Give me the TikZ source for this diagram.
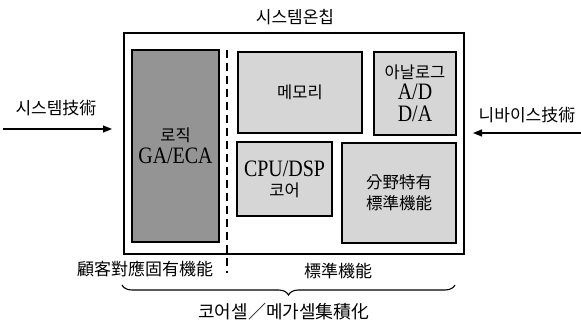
\documentclass[tikz,border=0pt]{standalone}
\usepackage{fontspec}
\setmainfont{Liberation Serif}
\newfontfamily\kr{Noto Sans CJK KR}
\usetikzlibrary{arrows.meta,decorations.pathreplacing}
\newcommand\krt[1]{{\kr\fontsize{16.5}{20}\selectfont #1}}
\newcommand\tall[1]{\scalebox{0.95}[1.12]{#1}}
\begin{document}
\begin{tikzpicture}[x=1pt,y=-1pt,
  blk/.style={draw, line width=1.1pt, inner sep=0pt, align=center,
              font=\fontsize{21}{22}\selectfont},
  lightblk/.style={blk, fill=black!16},
  darkblk/.style={blk, fill=black!42},
  lbl/.style={inner sep=0pt, font=\kr\fontsize{17}{20}\selectfont},
  arr/.style={line width=1.2pt, -{Triangle[length=9pt,width=7pt]}}
]
\useasboundingbox (0,0) rectangle (581,328);

% outer chip
\node[draw, line width=1.2pt, minimum width=340pt, minimum height=221pt, inner sep=0pt] (chip) at (294,143.5) {};
\node[lbl] (title) at (295,17) {시스템온칩};

% blocks
\node[darkblk, minimum width=87pt, minimum height=192pt] (logic) at (175.5,146) {\krt{로직}\\\tall{GA/ECA}};
\node[lightblk, minimum width=124pt, minimum height=81pt] (mem) at (300,92.5) {\krt{메모리}};
\node[lightblk, minimum width=82pt, minimum height=83pt] (ana) at (415,93.5) {\krt{아날로그}\\[-1pt]\tall{A/D}\\\tall{D/A}};
\node[lightblk, minimum width=95pt, minimum height=74pt] (cpu) at (284.5,179) {\tall{CPU/DSP}\\[-2pt]\krt{코어}};
\node[lightblk, minimum width=114pt, minimum height=100pt] (std) at (399,193) {\krt{分野特有}\\[-1pt]\krt{標準機能}};

% dashed divider
\coordinate (dtop) at (227,50);
\coordinate (dbot) at (227,273);
\draw[line width=1.3pt, dash pattern=on 8pt off 5pt] (dtop) -- (dbot);

% bottom labels
\node[lbl] (cust) at (145,269) {顧客對應固有機能};
\node[lbl] (stdf) at (338,271) {標準機能};

% brace
\coordinate (bl) at (122,285);
\coordinate (br) at (455,285);
\draw[line width=1.1pt, decorate, decoration={brace, amplitude=10pt, mirror}] (bl) -- (br);
\node[lbl, font=\kr\fontsize{18}{20}\selectfont] (integ) at (284,312) {코어셀／메가셀集積化};

% side arrows
\node[lbl] (systech) at (56,108) {시스템技術};
\coordinate (la) at (3,129);
\coordinate (lb) at (112,129);
\draw[arr] (la) -- (lb);

\node[lbl] (devtech) at (527,115) {니바이스技術};
\coordinate (ra) at (581,133);
\coordinate (rb) at (473,133);
\draw[arr] (ra) -- (rb);
\end{tikzpicture}
\end{document}
